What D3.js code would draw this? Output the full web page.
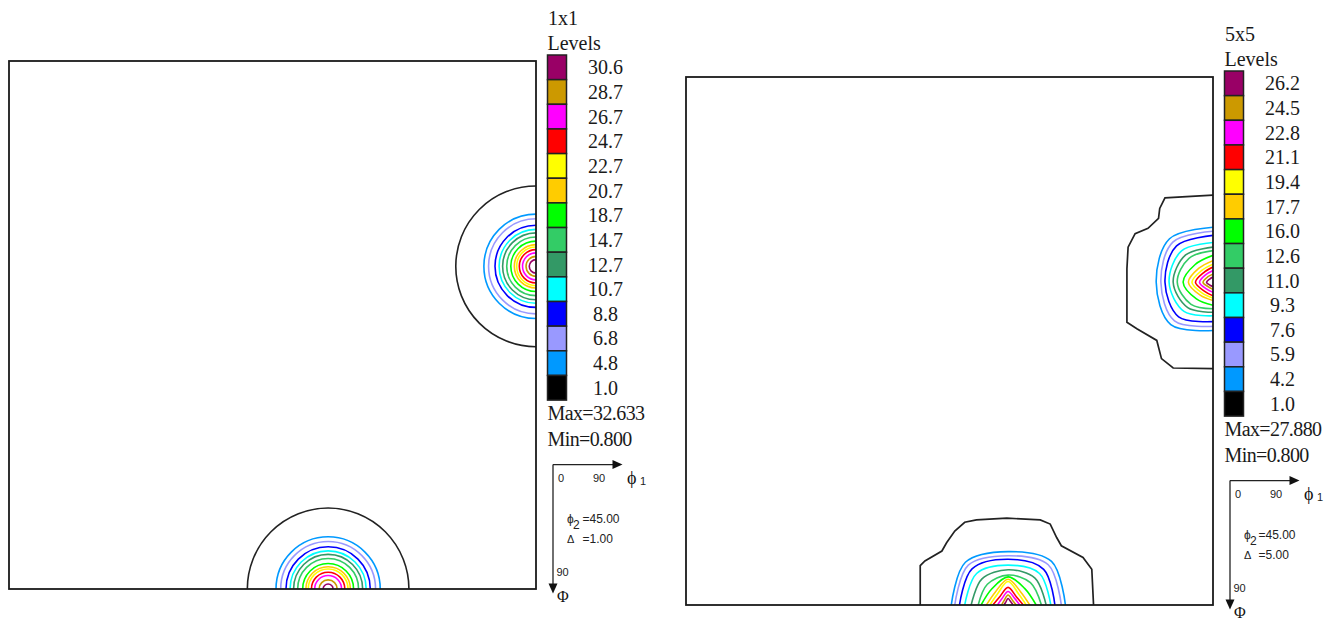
<!DOCTYPE html>
<html><head><meta charset="utf-8">
<script src="https://cdn.jsdelivr.net/npm/d3@7"></script>
<style>body{margin:0;background:#fff}svg{display:block}</style>
</head><body>
<svg id="chart" width="1338" height="621"></svg>
<script>
// ---------- DATA ----------
const levelColors = ["#000000","#0099ff","#9999ff","#0000ff","#00ffff","#339966","#33cc66","#00ff00","#ffcc00","#ffff00","#ff0000","#ff00ff","#cc9900","#990066"];

// 1x1 panel
const levels1 = [1.0, 4.8, 6.8, 8.8, 10.7, 12.7, 14.7, 18.7, 20.7, 22.7, 24.7, 26.7, 28.7, 30.6];
const title1 = "1x1";
const max1 = "Max=32.633", min1 = "Min=0.800", delta1 = "1.00";
const peakRight1 = [90, 35];     // [phi1, Phi]
const peakBottom1 = [54.5, 90];
// contour radius (degrees) per level
const radiiRight1  = [13.7, 8.9, 8.1, 7.0, 6.3, 5.7, 5.0, 4.3, 3.7, 3.3, 2.85, 2.3, 1.7, 1.15];
const radiiBottom1 = [13.8, 8.9, 8.1, 7.2, 6.5, 5.9, 5.2, 4.35, 3.8, 3.4, 2.85, 2.3, 1.55, 0.85];

// 5x5 panel
const levels5 = [1.0, 4.2, 5.9, 7.6, 9.3, 11.0, 12.6, 16.0, 17.7, 19.4, 21.1, 22.8, 24.5, 26.2];
const title5 = "5x5";
const max5 = "Max=27.880", min5 = "Min=0.800", delta5 = "5.00";
const peakRight5 = [90, 35];
const peakBottom5 = [55, 90];
// radii (degrees) for levels 2..14 at directions [up, up-left, left, down-left, down]
const radiiRight5 = [
  [9.4, 10.5, 9.7, 10.2, 8.2],
  [8.7, 9.7, 8.9, 9.3, 7.5],
  [8.0, 8.8, 8.2, 8.3, 6.7],
  [6.8, 7.6, 7.5, 7.0, 5.7],
  [6.0, 6.6, 6.8, 6.1, 5.1],
  [5.4, 5.8, 6.1, 5.3, 4.5],
  [4.6, 4.3, 5.1, 4.0, 3.9],
  [3.7, 3.4, 4.2, 3.1, 3.1],
  [3.1, 2.8, 3.6, 2.6, 2.7],
  [2.6, 2.3, 3.0, 2.1, 2.3],
  [2.0, 1.8, 2.3, 1.6, 1.7],
  [1.4, 1.3, 1.7, 1.1, 1.2],
  [0.9, 0.8, 1.1, 0.7, 0.7]
];
// radii (degrees) for levels 2..14 at directions [left, up-left, up, up-right, right]
const radiiBottom5 = [
  [9.7, 10.3, 9.1, 10.5, 9.8],
  [9.1, 9.6, 8.4, 9.7, 9.1],
  [8.3, 8.7, 7.8, 8.6, 8.0],
  [7.4, 7.6, 6.8, 7.6, 7.3],
  [6.3, 6.3, 6.0, 6.5, 6.5],
  [5.1, 5.0, 5.1, 5.4, 5.7],
  [4.6, 3.9, 4.8, 4.0, 4.8],
  [3.7, 3.1, 4.4, 3.1, 3.7],
  [3.1, 2.6, 4.0, 2.6, 3.1],
  [2.6, 2.0, 3.0, 2.0, 2.6],
  [1.8, 1.5, 2.3, 1.6, 2.0],
  [1.1, 1.0, 1.7, 1.1, 1.4],
  [0.7, 0.6, 1.1, 0.7, 0.85]
];
// lowest-level (1.0) contours of 5x5 panel, as [phi1, Phi] points
const black5Right = [[90,20.15],[81.8,20.6],[80.9,22.4],[80.7,24.1],[78.9,25.8],[76.7,26.7],[75.5,29.0],[75.3,32.7],[75.3,41.8],[77.0,42.9],[80.4,44.9],[81.2,48.0],[83.2,49.6],[90,49.7]];
const black5Bottom = [[40.0,90],[40.0,83.3],[40.8,82.5],[43.7,80.8],[44.5,79.4],[45.9,77.4],[47.6,75.9],[49.6,75.5],[54.8,75.2],[60.5,75.5],[62.2,76.2],[63.3,78.5],[64.1,79.9],[67.8,81.9],[69.3,83.9],[69.6,90]];

const axisDomain = [0, 90];
const phi2Label = "45.00";

// ---------- DRAW ----------
const svg = d3.select("#chart");
const W = 527, H = 528;
const serif = "'Liberation Serif','Times New Roman',serif";
const sans = "'Liberation Sans',Arial,sans-serif";

function drawPanel(p) {
  const g = svg.append("g");
  const x = d3.scaleLinear().domain(axisDomain).range([p.x0, p.x0 + W]);
  const y = d3.scaleLinear().domain(axisDomain).range([p.y0, p.y0 + H]);
  const clipId = "clip" + p.id;
  svg.append("clipPath").attr("id", clipId).append("rect")
    .attr("x", p.x0).attr("y", p.y0).attr("width", W).attr("height", H);
  const cg = g.append("g").attr("clip-path", `url(#${clipId})`);

  if (p.type === "circle") {
    [[p.peakRight, p.radiiRight], [p.peakBottom, p.radiiBottom]].forEach(([c, radii]) => {
      cg.selectAll(null).data(radii).enter().append("ellipse")
        .attr("cx", x(c[0])).attr("cy", y(c[1]))
        .attr("rx", d => x(d) - x(0)).attr("ry", d => y(d) - y(0))
        .attr("fill", "none")
        .attr("stroke", (d, i) => i === 0 ? "#222" : levelColors[i])
        .attr("stroke-width", 1.6);
    });
  } else {
    const line = d3.line().x(d => x(d[0])).y(d => y(d[1]));
    const smooth = d3.line().x(d => x(d[0])).y(d => y(d[1])).curve(d3.curveCatmullRom.alpha(0.5));
    [p.blackRight, p.blackBottom].forEach(pts => {
      cg.append("path").attr("d", line(pts)).attr("fill", "none")
        .attr("stroke", "#222").attr("stroke-width", 1.7);
    });
    const angR = [0, 45, 90, 135, 180];
    cg.selectAll(null).data(p.radiiRight).enter().append("path")
      .attr("d", rs => smooth(rs.map((r, k) => {
        const a = angR[k] * Math.PI / 180;
        return [p.peakRight[0] - r * Math.sin(a), p.peakRight[1] - r * Math.cos(a)];
      })))
      .attr("fill", "none").attr("stroke", (d, i) => levelColors[i + 1]).attr("stroke-width", 1.6);
    const angB = [-90, -45, 0, 45, 90];
    cg.selectAll(null).data(p.radiiBottom).enter().append("path")
      .attr("d", rs => smooth(rs.map((r, k) => {
        const a = angB[k] * Math.PI / 180;
        return [p.peakBottom[0] + r * Math.sin(a), p.peakBottom[1] - r * Math.cos(a)];
      })))
      .attr("fill", "none").attr("stroke", (d, i) => levelColors[i + 1]).attr("stroke-width", 1.6);
  }

  // frame
  g.append("rect").attr("x", p.x0).attr("y", p.y0).attr("width", W).attr("height", H)
    .attr("fill", "none").attr("stroke", "#1a1a1a").attr("stroke-width", 1.8);

  // legend
  const lx = p.x0 + W + 11.5, ly = p.y0 - 6;
  const sh = 24.65;
  const lg = g.append("g");
  lg.append("text").attr("x", lx + 0.5).attr("y", ly - 30).text(p.title)
    .attr("font-family", serif).attr("font-size", 20).attr("fill", "#1a1a1a");
  lg.append("text").attr("x", lx).attr("y", ly - 5.5).text("Levels")
    .attr("font-family", serif).attr("font-size", 20).attr("fill", "#1a1a1a");
  const rev = p.levels.map((v, i) => ({v, c: levelColors[i]})).reverse();
  const sw = d3.scaleBand().domain(rev.map((d, i) => i)).range([ly, ly + sh * rev.length]).padding(0);
  lg.selectAll(null).data(rev).enter().append("rect")
    .attr("x", lx).attr("y", (d, i) => sw(i)).attr("width", 19).attr("height", sw.bandwidth())
    .attr("fill", d => d.c).attr("stroke", "#222").attr("stroke-width", 1.5);
  lg.selectAll(null).data(rev).enter().append("text")
    .attr("x", lx + 58).attr("y", (d, i) => sw(i) + sw.bandwidth() / 2 + 7)
    .attr("text-anchor", "middle").text(d => d.v.toFixed(1))
    .attr("font-family", serif).attr("font-size", 20).attr("fill", "#1a1a1a");
  const by = ly + sh * rev.length;
  lg.append("text").attr("x", lx).attr("y", by + 20).text(p.max)
    .attr("font-family", serif).attr("font-size", 20).attr("fill", "#1a1a1a").attr("letter-spacing", -0.6);
  lg.append("text").attr("x", lx).attr("y", by + 46).text(p.min)
    .attr("font-family", serif).attr("font-size", 20).attr("fill", "#1a1a1a").attr("letter-spacing", -0.6);

  // orientation indicator
  const hy = by + 64.5, vx = lx + 5.5;
  lg.append("path").attr("d", `M${vx},${hy}H${lx + 66}`).attr("stroke", "#222").attr("stroke-width", 1.3);
  lg.append("path").attr("d", `M${lx + 75},${hy}L${lx + 65},${hy - 4.5}L${lx + 65},${hy + 4.5}Z`).attr("fill", "#111");
  lg.append("path").attr("d", `M${vx},${hy}V${hy + 120}`).attr("stroke", "#222").attr("stroke-width", 1.3);
  lg.append("path").attr("d", `M${vx},${hy + 129}L${vx - 4.5},${hy + 119}L${vx + 4.5},${hy + 119}Z`).attr("fill", "#111");
  const small = (t, xx, yy, fs) => lg.append("text").attr("x", xx).attr("y", yy).text(t)
    .attr("font-family", sans).attr("font-size", fs || 11).attr("fill", "#222");
  small(String(axisDomain[0]), lx + 10.5, hy + 17);
  small(String(axisDomain[1]), lx + 45.5, hy + 17);
  lg.append("text").attr("x", lx + 79.5).attr("y", hy + 19).text("ϕ")
    .attr("font-family", serif).attr("font-size", 18).attr("fill", "#111");
  lg.append("text").attr("x", lx + 92.5).attr("y", hy + 20).text("1")
    .attr("font-family", sans).attr("font-size", 11).attr("fill", "#222");
  small("ϕ", lx + 19.5, hy + 58.5, 12);
  small("2", lx + 25.5, hy + 64.5, 12);
  small("=" + phi2Label, lx + p.eqX, hy + 58.5, 12);
  small("Δ", lx + 19.5, hy + 78, 11);
  small("=" + p.delta, lx + p.eqX, hy + 78, 12);
  small(String(axisDomain[1]), lx + 9, hy + 111.5);
  lg.append("text").attr("x", lx + 9.5).attr("y", hy + 137).text("Φ")
    .attr("font-family", serif).attr("font-size", 16).attr("fill", "#111");
}

drawPanel({id: 1, type: "circle", x0: 9, y0: 61, title: title1, levels: levels1, max: max1, min: min1, delta: delta1,
  peakRight: peakRight1, peakBottom: peakBottom1, radiiRight: radiiRight1, radiiBottom: radiiBottom1, eqX: 35});
drawPanel({id: 5, type: "poly", x0: 686, y0: 77, title: title5, levels: levels5, max: max5, min: min5, delta: delta5,
  peakRight: peakRight5, peakBottom: peakBottom5, radiiRight: radiiRight5, radiiBottom: radiiBottom5,
  blackRight: black5Right, blackBottom: black5Bottom, eqX: 34});
</script>
</body></html>
